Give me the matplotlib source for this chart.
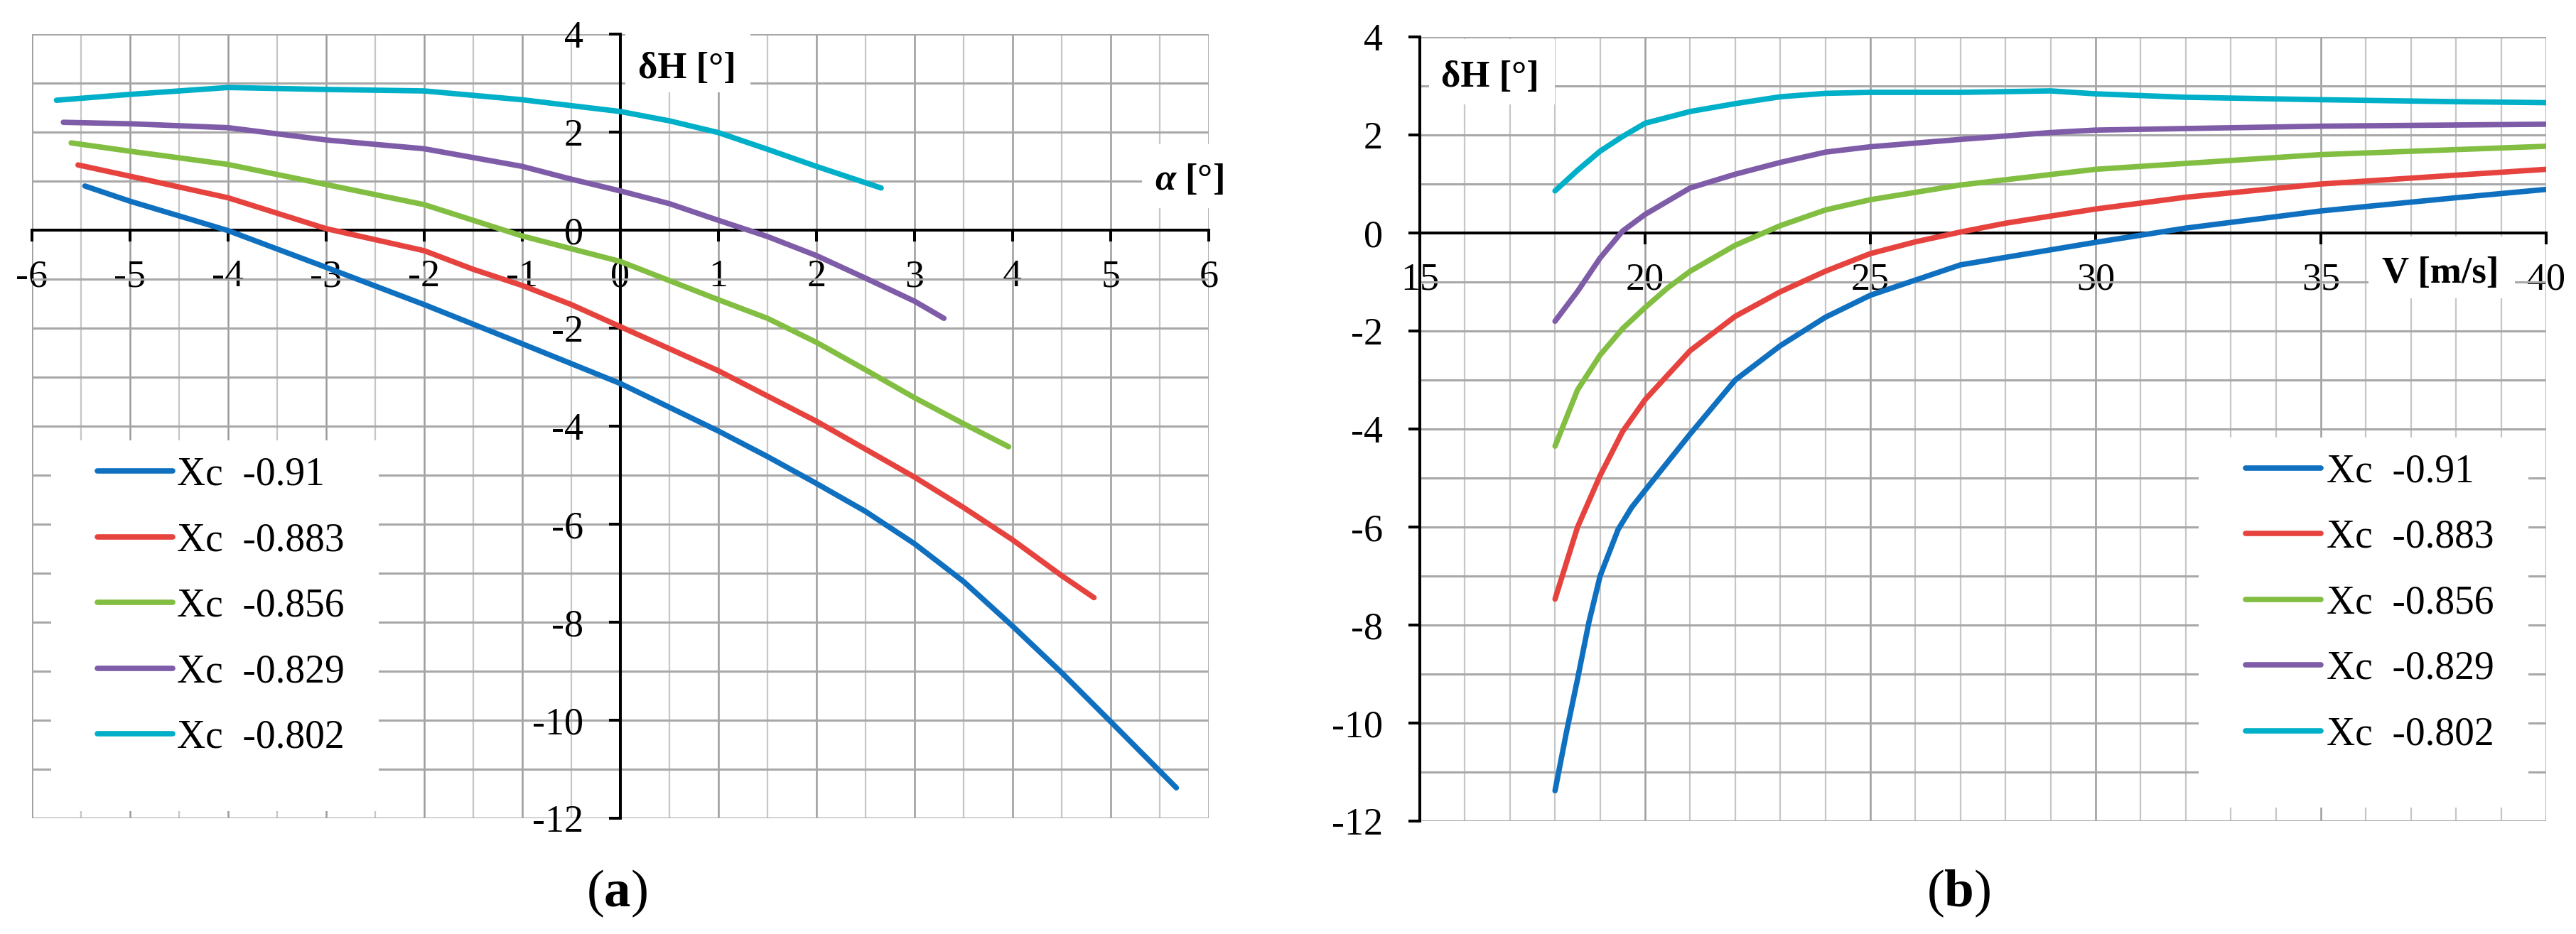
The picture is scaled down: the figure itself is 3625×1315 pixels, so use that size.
import matplotlib.pyplot as plt
from matplotlib.patches import Rectangle
from matplotlib.ticker import MultipleLocator

plt.rcParams['font.family'] = ['Liberation Serif', 'DejaVu Serif']
plt.rcParams['axes.unicode_minus'] = False
plt.rcParams['mathtext.fontset'] = 'custom'
plt.rcParams['mathtext.rm'] = 'Liberation Serif'
plt.rcParams['mathtext.bf'] = 'Liberation Serif:bold'
plt.rcParams['mathtext.bfit'] = 'Liberation Serif:italic:bold'

labels = ["Xc  -0.91", "Xc  -0.883", "Xc  -0.856", "Xc  -0.829", "Xc  -0.802"]
colors = ["#1070C0", "#E6433F", "#82BE42", "#7E5CA8", "#00AFC8"]

# (a) deltaH vs angle of attack
a_091 = [-5.46, -5, -4, -3, -2, -1, 0, 1, 1.5, 2, 2.5, 3, 3.5, 4, 4.5, 5, 5.67]
dh_a_091 = [0.90, 0.59, -0.01, -0.76, -1.52, -2.32, -3.13, -4.1, -4.62, -5.17, -5.74, -6.40, -7.17, -8.08, -9.03, -10.03, -11.38]
a_0883 = [-5.53, -5, -4, -3, -2, -1.5, -1, -0.5, 0, 1, 2, 3, 3.5, 4, 4.5, 4.83]
dh_a_0883 = [1.33, 1.10, 0.66, 0.03, -0.42, -0.80, -1.13, -1.52, -1.97, -2.87, -3.90, -5.04, -5.66, -6.32, -7.05, -7.50]
a_0856 = [-5.6, -5, -4, -3, -2, -1.5, -1, 0, 0.5, 1, 1.5, 2, 2.5, 3, 3.5, 3.96]
dh_a_0856 = [1.78, 1.61, 1.34, 0.93, 0.52, 0.20, -0.12, -0.64, -1.03, -1.42, -1.80, -2.29, -2.85, -3.42, -3.95, -4.42]
a_0829 = [-5.68, -5, -4, -3, -2, -1, -0.5, 0, 0.5, 1, 1.5, 2, 2.5, 3, 3.3]
dh_a_0829 = [2.20, 2.17, 2.09, 1.84, 1.66, 1.30, 1.04, 0.80, 0.54, 0.20, -0.13, -0.52, -0.98, -1.45, -1.80]
a_0802 = [-5.75, -5, -4, -3, -2, -1, 0, 0.5, 1, 1.5, 2, 2.66]
dh_a_0802 = [2.65, 2.77, 2.91, 2.87, 2.84, 2.66, 2.42, 2.23, 1.99, 1.65, 1.30, 0.86]

# (b) deltaH vs speed
v_091 = [18, 18.25, 18.5, 18.75, 19, 19.4, 19.7, 20, 21, 22, 23, 24, 25, 27, 30, 32, 35, 38, 40]
dh_v_091 = [-11.38, -10.2, -9.1, -7.95, -7.0, -6.05, -5.6, -5.25, -4.1, -3.0, -2.3, -1.72, -1.27, -0.65, -0.19, 0.1, 0.45, 0.72, 0.89]
v_0883 = [18, 18.5, 19, 19.5, 20, 21, 22, 23, 24, 25, 26, 27, 28, 30, 32, 35, 38, 40]
dh_v_0883 = [-7.47, -6.0, -4.95, -4.05, -3.4, -2.4, -1.7, -1.2, -0.78, -0.42, -0.18, 0.02, 0.2, 0.49, 0.73, 1.0, 1.18, 1.3]
v_0856 = [18, 18.5, 19, 19.5, 20, 20.5, 21, 22, 23, 24, 25, 27, 30, 35, 40]
dh_v_0856 = [-4.35, -3.2, -2.49, -1.95, -1.52, -1.12, -0.78, -0.25, 0.15, 0.47, 0.68, 0.98, 1.30, 1.60, 1.77]
v_0829 = [18, 18.5, 19, 19.5, 20, 20.5, 21, 22, 23, 24, 25, 27, 29, 30, 35, 40]
dh_v_0829 = [-1.80, -1.19, -0.51, 0.04, 0.38, 0.65, 0.92, 1.20, 1.44, 1.65, 1.76, 1.91, 2.05, 2.10, 2.18, 2.22]
v_0802 = [18, 18.5, 19, 19.5, 20, 21, 22, 23, 24, 25, 27, 29, 30, 32, 35, 38, 40]
dh_v_0802 = [0.86, 1.28, 1.67, 1.97, 2.24, 2.48, 2.64, 2.78, 2.85, 2.87, 2.87, 2.90, 2.84, 2.77, 2.72, 2.68, 2.66]

series_a = [(a_091, dh_a_091), (a_0883, dh_a_0883), (a_0856, dh_a_0856), (a_0829, dh_a_0829), (a_0802, dh_a_0802)]
series_b = [(v_091, dh_v_091), (v_0883, dh_v_0883), (v_0856, dh_v_0856), (v_0829, dh_v_0829), (v_0802, dh_v_0802)]

TICK_FS = 39
LEG_FS = 40
LABEL_FS = 38
LW = 5.5


def style_axes(ax, xlim, xmajor, xminor, yzero_x):
    ax.set_xlim(*xlim)
    ax.set_ylim(-12, 4)
    ax.xaxis.set_major_locator(MultipleLocator(xmajor))
    ax.xaxis.set_minor_locator(MultipleLocator(xminor))
    ax.yaxis.set_major_locator(MultipleLocator(2))
    ax.yaxis.set_minor_locator(MultipleLocator(1))
    ax.set_axisbelow(True)
    ax.grid(which='major', axis='x', color='#9c9c9c', lw=1.8)
    ax.grid(which='minor', axis='x', color='#c6c6c6', lw=1.6)
    ax.grid(which='both', axis='y', color='#a8a8a8', lw=2.2)
    for s in ['top', 'right']:
        ax.spines[s].set_visible(False)
    ax.spines['left'].set_position(('data', yzero_x))
    ax.spines['bottom'].set_position(('data', 0))
    for s in ['left', 'bottom']:
        ax.spines[s].set_linewidth(2.9)
    ax.tick_params(which='major', direction='out', length=11.5, width=2.9, labelsize=TICK_FS)
    ax.tick_params(which='minor', length=0)
    ax.tick_params(axis='x', pad=18)
    ax.tick_params(axis='y', pad=26)


def white_box(ax, x0, y0, x1, y1, transform=None):
    ax.add_patch(Rectangle((x0, y0), x1 - x0, y1 - y0, fc='white', ec='none', zorder=1,
                           clip_on=False, transform=transform or ax.transData))


fig = plt.figure(figsize=(36.25, 13.15), dpi=100)
ax1 = fig.add_axes([0.01241, 0.1240, 0.4568, 0.8395])
ax2 = fig.add_axes([0.5512, 0.1209, 0.4372, 0.8395])

style_axes(ax1, (-6, 6), 1, 0.5, 0)
style_axes(ax2, (15, 40), 5, 1, 15)

for (x, y), c, lab in zip(series_a, colors, labels):
    ax1.plot(x, y, color=c, lw=LW, label=lab, zorder=3, solid_capstyle='round', solid_joinstyle='round')
for (x, y), c, lab in zip(series_b, colors, labels):
    ax2.plot(x, y, color=c, lw=LW, label=lab, zorder=3, solid_capstyle='round', solid_joinstyle='round')

# axis labels with white backgrounds
white_box(ax1, 0.05, 2.81, 1.33, 4.05)
ax1.text(0.18, 3.10, "δH [°]", fontsize=LABEL_FS, fontweight='bold', ha='left', va='baseline', zorder=4)
white_box(ax1, 5.32, 0.45, 6.05, 1.75)
ax1.text(5.45, 0.83, r"$\mathbfit{\alpha}$ [°]", fontsize=LABEL_FS, fontweight='bold', ha='left',
         va='baseline', zorder=4, clip_on=False)

white_box(ax2, 15.2, 2.62, 18.0, 3.96)
ax2.text(15.47, 2.98, "δH [°]", fontsize=LABEL_FS, fontweight='bold', ha='left', va='baseline', zorder=4)
white_box(ax2, 36.06, -1.33, 39.3, -0.07)
ax2.text(36.36, -1.01, "V [m/s]", fontsize=LABEL_FS, fontweight='bold', ha='left', va='baseline', zorder=4)

# legends on white boxes
white_box(ax1, 0.0163, 0.0091, 0.2947, 0.4819, transform=ax1.transAxes)
ax1.legend(loc='upper left', bbox_to_anchor=(0.0556, 0.4615), frameon=False, fontsize=LEG_FS,
           handlelength=1.9, handletextpad=0.12, labelspacing=0.73, borderpad=0, borderaxespad=0)
white_box(ax2, 0.6915, 0.0172, 0.9842, 0.4891, transform=ax2.transAxes)
ax2.legend(loc='upper left', bbox_to_anchor=(0.7331, 0.4690), frameon=False, fontsize=LEG_FS,
           handlelength=1.9, handletextpad=0.15, labelspacing=0.73, borderpad=0, borderaxespad=0)

fig.text(0.2394, 0.0433, r"($\mathbf{a}$)", fontsize=54, ha='center', va='center')
fig.text(0.7603, 0.0433, r"($\mathbf{b}$)", fontsize=54, ha='center', va='center')

fig.savefig("out.png", dpi=100)
